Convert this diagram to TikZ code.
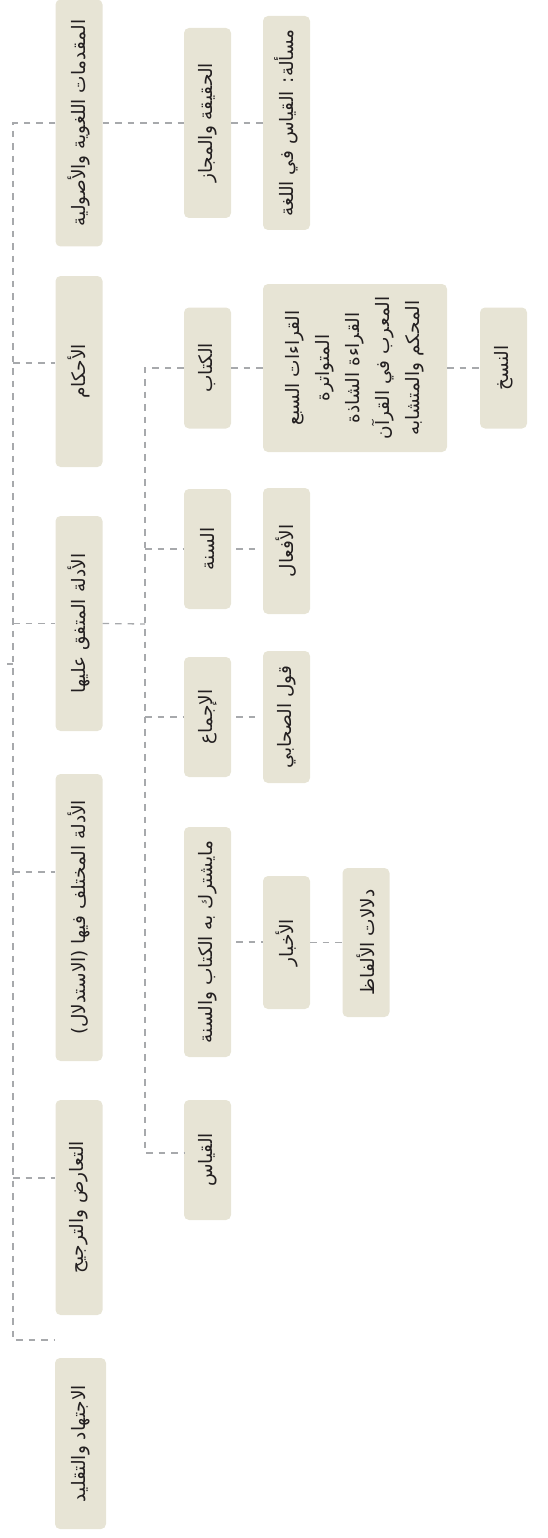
\documentclass[tikz,border=0pt]{standalone}
\usepackage{fontspec}
\usepackage{xcolor}
\usepackage{tikz}
\newfontfamily\arabicfont[Script=Arabic]{DejaVu Sans}
\TeXXeTstate=1
\definecolor{boxfill}{HTML}{E7E4D5}
\definecolor{linkgray}{HTML}{A7A9AC}
\definecolor{txtgray}{HTML}{231F20}
\newcommand{\artxt}[1]{\beginR #1\endR}

\begin{document}
\begin{tikzpicture}[
  x=1pt,y=-1pt,
  box/.style={fill=boxfill,rounded corners=5pt,rotate=90,minimum height=47pt,
    inner sep=2pt,text=txtgray,align=center,
    font=\arabicfont\fontsize{18.5}{30}\selectfont},
  link/.style={draw=linkgray,line width=1.3pt,dash pattern=on 6.5pt off 6pt}
]
\useasboundingbox (0,0) rectangle (547,1538);

% ---------------- level 1: main parts ----------------
\node[box,minimum width=247pt] (muq) at (79,123)    {\artxt{المقدمات اللغوية والأصولية}};
\node[box,minimum width=191pt] (ahk) at (79,371.5)  {\artxt{الأحكام}};
\node[box,minimum width=215pt] (mtf) at (79,623.5)  {\artxt{الأدلة المتفق عليها}};
\node[box,minimum width=287pt] (mkh) at (79,917.5)  {\artxt{الأدلة المختلف فيها (الاستدلال)}};
\node[box,minimum width=215pt] (taa) at (79,1207.5) {\artxt{التعارض والترجيح}};
\node[box,minimum width=171pt,minimum height=51pt] (ijt) at (80.5,1443.5) {\artxt{الاجتهاد والتقليد}};

% ---------------- level 2 ----------------
\node[box,minimum width=190pt] (haq) at (207.5,123)  {\artxt{الحقيقة والمجاز}};
\node[box,minimum width=121pt] (kit) at (207.5,368)  {\artxt{الكتاب}};
\node[box,minimum width=120pt] (sun) at (207.5,549)  {\artxt{السنة}};
\node[box,minimum width=120pt] (ijm) at (207.5,717)  {\artxt{الإجماع}};
\node[box,minimum width=230pt] (msh) at (207.5,942)  {\artxt{مايشترك به الكتاب والسنة}};
\node[box,minimum width=120pt] (qiy) at (207.5,1160) {\artxt{القياس}};

% ---------------- level 3 ----------------
\node[box,minimum width=214pt] (msl) at (286.5,123) {\artxt{مسألة: القياس في اللغة}};
\node[box,minimum width=168pt,minimum height=184pt] (qir) at (355,368)
  {\artxt{القراءات السبع}\\\artxt{المتواترة}\\\artxt{القراءة الشاذة}\\\artxt{المعرب في القرآن}\\\artxt{المحكم والمتشابه}};
\node[box,minimum width=126pt] (afa) at (286.5,551)   {\artxt{الأفعال}};
\node[box,minimum width=132pt] (qwl) at (286.5,717)   {\artxt{قول الصحابي}};
\node[box,minimum width=133pt] (akh) at (286.5,942.5) {\artxt{الأخبار}};

% ---------------- level 4 ----------------
\node[box,minimum width=149pt] (dal) at (366,942.5) {\artxt{دلالات الألفاظ}};
\node[box,minimum width=121pt] (nas) at (503.5,368) {\artxt{النسخ}};

% ---------------- trunk of level 1 ----------------
\coordinate (root) at (7,664);
\coordinate (tr) at (13,664);
\coordinate (ahkin) at ([yshift=8.5pt]ahk.north);
\coordinate (mkhin) at ([yshift=45.5pt]mkh.north);
\coordinate (taain) at ([yshift=29.5pt]taa.north);
\coordinate (ijtin) at ([yshift=103.5pt]ijt.north);
\draw[link] (root) -- (tr);
\draw[link] (muq.north) -- (tr |- muq.north) -- (tr |- ijtin) -- (ijtin);
\draw[link] (tr |- ahkin) -- (ahkin);
\draw[link] (tr |- mtf.north) -- (mtf.north);
\draw[link] (tr |- mkhin) -- (mkhin);
\draw[link] (tr |- taain) -- (taain);

% ---------------- trunk of level 2 ----------------
\coordinate (tr2) at (145,624);
\coordinate (qiyin) at ([yshift=7pt]qiy.north);
\draw[link] (mtf.south) -- (tr2);
\draw[link] (kit.north) -- (tr2 |- kit.north) -- (tr2 |- qiyin) -- (qiyin);
\draw[link] (tr2 |- sun.north) -- (sun.north);
\draw[link] (tr2 |- ijm.north) -- (ijm.north);

% ---------------- chains ----------------
\draw[link] (muq.south) -- (haq.north);
\draw[link] (haq.south) -- (msl.north);
\draw[link] (kit.south) -- (kit.south -| qir.north);
\draw[link] (qir.south) -- (qir.south -| nas.north);
\draw[link,shorten <=5pt,shorten >=6pt] (sun.south) -- (sun.south -| afa.north);
\draw[link,shorten <=5pt,shorten >=6pt] (ijm.south) -- (ijm.south -| qwl.north);
\draw[link,shorten <=5pt] (msh.south) -- (msh.south -| akh.north);
\draw[link] (akh.south) -- (dal.north);
\end{tikzpicture}
\end{document}
